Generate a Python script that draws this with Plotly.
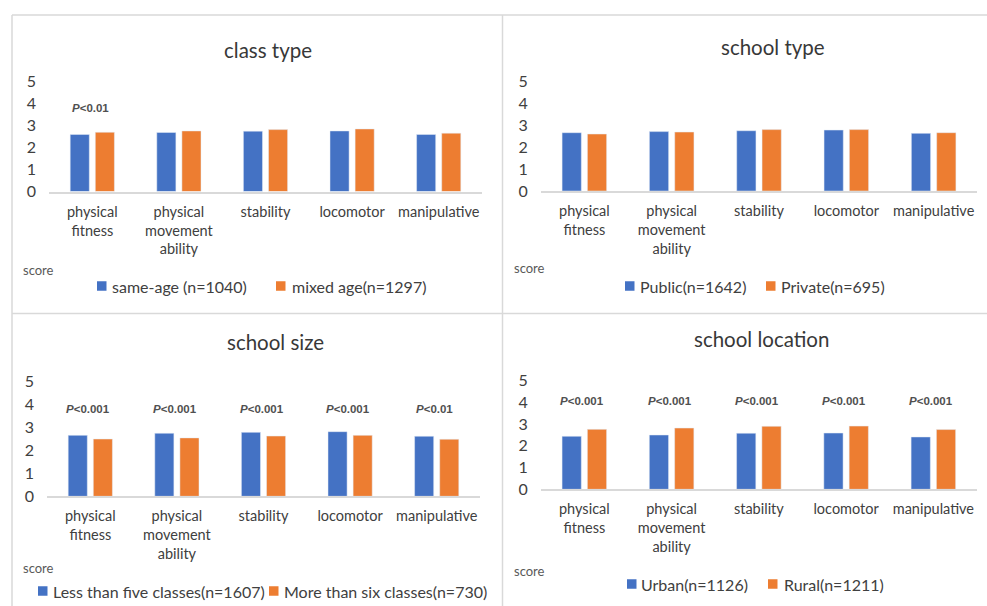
import plotly.graph_objects as go

W, H = 987, 606

# Motor-skill dimensions shared by all four panels
categories = ["physical fitness", "physical movement ability", "stability",
              "locomotor", "manipulative"]
tick_labels = ["physical<br>fitness", "physical<br>movement<br>ability",
               "stability", "locomotor", "manipulative"]
y_ticks = [0, 1, 2, 3, 4, 5]

# Mean scores per group
class_same_age = [2.58, 2.67, 2.73, 2.74, 2.58]
class_mixed_age = [2.68, 2.74, 2.80, 2.83, 2.64]
school_public = [2.65, 2.70, 2.74, 2.77, 2.62]
school_private = [2.59, 2.68, 2.79, 2.79, 2.65]
size_small = [2.65, 2.74, 2.78, 2.81, 2.61]
size_large = [2.49, 2.54, 2.62, 2.65, 2.48]
loc_urban = [2.44, 2.50, 2.58, 2.59, 2.41]
loc_rural = [2.76, 2.82, 2.90, 2.91, 2.75]

# Significance labels (empty = not significant)
p_class = ["P<0.01", "", "", "", ""]
p_school_type = ["", "", "", "", ""]
p_size = ["P<0.001", "P<0.001", "P<0.001", "P<0.001", "P<0.01"]
p_location = ["P<0.001", "P<0.001", "P<0.001", "P<0.001", "P<0.001"]

titles = ["class type", "school type", "school size", "school location"]
series_names = [
    ["same-age (n=1040)", "mixed age(n=1297)"],
    ["Public(n=1642)", "Private(n=695)"],
    ["Less than five classes(n=1607)", "More than six classes(n=730)"],
    ["Urban(n=1126)", "Rural(n=1211)"],
]
series_values = [
    [class_same_age, class_mixed_age],
    [school_public, school_private],
    [size_small, size_large],
    [loc_urban, loc_rural],
]
p_labels = [p_class, p_school_type, p_size, p_location]

BLUE = "#4472C4"
ORANGE = "#ED7D31"
TEXT = "#404040"
GRID = "#d9d9d9"
FONT = "Lato"

# Pixel layout of each panel
panels = [
    dict(x0=49, x1=482, ytop=81, ybot=191.5, title=(268, 50), score=(21, 270),
         leg_y=286, squares=(97, 276), texts=(110, 290), p_y=3.78),
    dict(x0=540.7, x1=977.3, ytop=81, ybot=191, title=(773, 47), score=(512, 268),
         leg_y=286, squares=(625, 766), texts=(638, 779), p_y=3.78),
    dict(x0=47, x1=480, ytop=381.3, ybot=496.3, title=(275, 342), score=(21, 568),
         leg_y=591, squares=(38, 269), texts=(51, 282), p_y=3.78),
    dict(x0=540.7, x1=977, ytop=380.7, ybot=489.3, title=(761, 339), score=(512, 571),
         leg_y=584, squares=(627, 768), texts=(639, 782), p_y=4.07),
]


def px(x):
    return x / W


def py(y):
    return 1 - y / H


fig = go.Figure()
annotations = []
shapes = []
layout_axes = {}
colors = [BLUE, ORANGE]

for i, (pan, names, vals, plabs, title) in enumerate(
        zip(panels, series_names, series_values, p_labels, titles), start=1):
    xa, ya = f"x{i}", f"y{i}"
    for name, v, c in zip(names, vals, colors):
        fig.add_trace(go.Bar(x=categories, y=v, name=name, marker_color=c,
                             xaxis=xa, yaxis=ya, showlegend=False))

    layout_axes[f"xaxis{i}"] = dict(
        domain=[px(pan["x0"]), px(pan["x1"])], anchor=ya, type="category",
        tickvals=categories, ticktext=tick_labels, showline=True,
        linecolor=GRID, linewidth=1.5, ticks="", showgrid=False,
        automargin=False,
        tickfont=dict(family=FONT, size=14.5, color=TEXT),
        ticklabelstandoff=6, fixedrange=True)
    layout_axes[f"yaxis{i}"] = dict(
        domain=[py(pan["ybot"]), py(pan["ytop"])], anchor=xa, range=[0, 5],
        tickvals=y_ticks, showgrid=False, zeroline=False, showline=False,
        automargin=False,
        ticks="", tickfont=dict(family=FONT, size=16, color=TEXT),
        ticklabelstandoff=12, fixedrange=True)

    # panel title
    annotations.append(dict(text=title, x=px(pan["title"][0]), y=py(pan["title"][1]),
                            xref="paper", yref="paper", showarrow=False,
                            xanchor="center", yanchor="middle",
                            font=dict(family=FONT, size=20.5, color="#383838")))
    # y-axis caption
    annotations.append(dict(text="score", x=px(pan["score"][0]), y=py(pan["score"][1]),
                            xref="paper", yref="paper", showarrow=False,
                            xanchor="left", yanchor="middle",
                            font=dict(family=FONT, size=13, color="#595959")))
    # legend entries
    for name, c, sx, tx in zip(names, colors, pan["squares"], pan["texts"]):
        shapes.append(dict(type="rect", xref="paper", yref="paper",
                           x0=px(sx), x1=px(sx + 9.5),
                           y0=py(pan["leg_y"] + 4.75), y1=py(pan["leg_y"] - 4.75),
                           fillcolor=c, line=dict(width=0)))
        annotations.append(dict(text=name, x=px(tx), y=py(pan["leg_y"]),
                                xref="paper", yref="paper", showarrow=False,
                                xanchor="left", yanchor="middle",
                                font=dict(family=FONT, size=16, color=TEXT)))
    # significance labels
    for cat, lab in zip(categories, plabs):
        if not lab:
            continue
        txt = "<i>P</i>" + lab[1:].replace("<", "&lt;")
        annotations.append(dict(text=f"<b>{txt}</b>", x=cat, y=pan["p_y"],
                                xref=xa, yref=ya, showarrow=False, xshift=-2,
                                xanchor="center", yanchor="middle",
                                font=dict(family="Liberation Sans", size=11.5,
                                          color="#505050")))

# panel frame lines
frame = [
    (12, 15, W, 15),
    (12, 15, 12, H),
    (502.5, 15, 502.5, H),
    (12, 313.5, W, 313.5),
]
for x0, y0, x1, y1 in frame:
    shapes.append(dict(type="line", xref="paper", yref="paper",
                       x0=px(x0), y0=py(y0), x1=px(x1), y1=py(y1),
                       line=dict(color=GRID, width=1.5)))

fig.update_layout(
    width=W, height=H, margin=dict(l=0, r=0, t=0, b=0, autoexpand=False),
    paper_bgcolor="white", plot_bgcolor="white",
    barmode="group", bargap=0.42, bargroupgap=0.24,
    annotations=annotations, shapes=shapes, **layout_axes,
)

fig.write_html("out.html", config=dict(displayModeBar=False))
